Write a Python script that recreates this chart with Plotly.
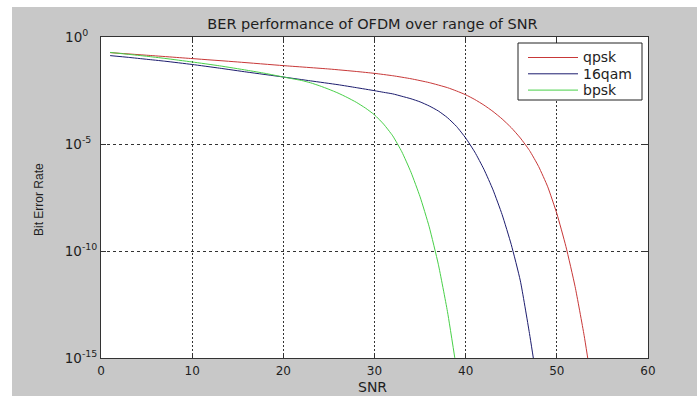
import plotly.graph_objects as go

# Bit error rate versus SNR (dB) for three OFDM modulation schemes
snr_qpsk = [1, 5, 10, 15, 20, 25, 28, 30, 32, 34, 36, 38, 39, 40, 41, 42, 43,
            44, 45, 46, 47, 48, 49, 50, 51, 52, 53, 54]
ber_qpsk = [1.86e-1, 1.41e-1, 9.8e-2, 6.8e-2, 4.6e-2, 3.2e-2, 2.45e-2, 2.0e-2,
            1.55e-2, 1.12e-2, 7.4e-3, 4.3e-3, 3.0e-3, 2.0e-3, 1.2e-3, 6.6e-4,
            3.3e-4, 1.48e-4, 5.8e-5, 1.9e-5, 5.0e-6, 8.9e-7, 1.0e-7, 5.6e-9,
            1.6e-10, 2.2e-12, 1.1e-14, 2.0e-17]

snr_16qam = [1, 3, 5, 7, 10, 13, 16, 20, 23, 26, 28, 30, 31, 32, 33, 34, 35,
             36, 37, 38, 39, 40, 41, 42, 43, 44, 45, 46, 47, 48]
ber_16qam = [1.35e-1, 1.12e-1, 9.1e-2, 7.4e-2, 5.2e-2, 3.5e-2, 2.3e-2, 1.35e-2,
             8.9e-3, 5.9e-3, 4.3e-3, 3.1e-3, 2.6e-3, 2.2e-3, 1.7e-3, 1.3e-3,
             9.3e-4, 6.0e-4, 3.5e-4, 1.7e-4, 6.6e-5, 1.9e-5, 4.2e-6, 6.6e-7,
             7.2e-8, 5.0e-9, 2.0e-10, 4.0e-12, 1.4e-14, 2.5e-17]

snr_bpsk = [1, 3, 5, 7, 10, 13, 16, 18, 20, 21, 22, 23, 24, 25, 26, 27, 28,
            29, 30, 31, 32, 33, 34, 35, 36, 37, 38, 39]
ber_bpsk = [1.9e-1, 1.55e-1, 1.26e-1, 1.0e-1, 6.8e-2, 4.5e-2, 2.8e-2, 2.0e-2,
            1.35e-2, 1.12e-2, 9.3e-3, 7.2e-3, 5.2e-3, 3.6e-3, 2.4e-3, 1.5e-3,
            8.9e-4, 4.8e-4, 2.3e-4, 8.5e-5, 2.4e-5, 4.3e-6, 4.8e-7, 3.4e-8,
            1.35e-9, 2.4e-11, 1.5e-13, 3.0e-16]

series_names = ["qpsk", "16qam", "bpsk"]
series_colors = ["#c83838", "#1c1c6e", "#48d048"]

x_ticks = [0, 10, 20, 30, 40, 50, 60]
y_ticks = [1e0, 1e-5, 1e-10, 1e-15]
# exponents padded so every "10" base lines up on the same right edge
NB = "\u00a0"
y_tick_text = ["10<sup>0" + NB * 3 + "</sup>", "10<sup>-5" + NB * 2 + "</sup>",
               "10<sup>-10</sup>", "10<sup>-15</sup>"]

W, H = 697, 396
L, R, T, B = 101, 49, 37, 38
pw, ph = W - L - R, H - T - B


def px_x(px):
    return (px - L) / pw


def px_y(py):
    return (H - B - py) / ph


FONT = "DejaVu Sans, Liberation Sans, Arial, sans-serif"
TXT = "#1e1e1e"

fig = go.Figure()
for xs, ys, name, color in zip([snr_qpsk, snr_16qam, snr_bpsk],
                               [ber_qpsk, ber_16qam, ber_bpsk],
                               series_names, series_colors):
    fig.add_trace(go.Scatter(x=xs, y=ys, mode="lines", name=name,
                             line=dict(color=color, width=1, shape="spline",
                                       smoothing=0.5)))

# grey figure window with white axes box
shapes = [
    dict(type="rect", xref="paper", yref="paper", layer="below",
         x0=px_x(12), x1=px_x(W + 5), y0=px_y(H + 5), y1=px_y(7),
         fillcolor="#c8c8c8", line=dict(width=0)),
    dict(type="rect", xref="paper", yref="paper", layer="below",
         x0=0, x1=1, y0=0, y1=1, fillcolor="white", line=dict(width=0)),
]
annotations = []

# boxed legend in the upper right corner of the axes
leg_x0, leg_x1, leg_y0, leg_y1 = 518, 642, 43, 100
shapes.append(dict(type="rect", xref="paper", yref="paper", layer="above",
                   x0=px_x(leg_x0), x1=px_x(leg_x1),
                   y0=px_y(leg_y1), y1=px_y(leg_y0),
                   fillcolor="white", line=dict(color="#222", width=1)))
for i, (name, color) in enumerate(zip(series_names, series_colors)):
    row_y = 57.5 + i * 16.3
    shapes.append(dict(type="line", xref="paper", yref="paper", layer="above",
                       x0=px_x(528), x1=px_x(578), y0=px_y(row_y), y1=px_y(row_y),
                       line=dict(color=color, width=1)))
    annotations.append(dict(text=name, xref="paper", yref="paper",
                            x=px_x(581), y=px_y(row_y), xanchor="left",
                            yanchor="middle", showarrow=False,
                            font=dict(family=FONT, size=14, color=TXT)))

annotations += [
    dict(text="SNR", xref="paper", yref="paper", x=px_x(372), y=px_y(386.5),
         xanchor="center", yanchor="middle", showarrow=False,
         font=dict(family=FONT, size=14, color=TXT)),
    dict(text="Bit Error Rate", xref="paper", yref="paper", x=px_x(39),
         y=px_y(200), xanchor="center", yanchor="middle", textangle=-90,
         showarrow=False,
         font=dict(family="Liberation Sans, Arial, sans-serif", size=12, color=TXT)),
]

fig.update_layout(
    width=W, height=H, autosize=False,
    margin=dict(l=L, r=R, t=T, b=B),
    paper_bgcolor="white", plot_bgcolor="white",
    shapes=shapes, annotations=annotations,
    font=dict(family=FONT, size=12, color=TXT),
    title=dict(text="BER performance of OFDM over range of SNR",
               x=372.5 / W, xanchor="center", y=1 - 24 / H, yanchor="middle",
               font=dict(family=FONT, size=14.5, color=TXT)),
    showlegend=False,
)

fig.update_xaxes(
    range=[0, 60], tickvals=x_ticks, ticks="inside", ticklen=5, tickcolor="#333",
    showline=True, linecolor="#333", linewidth=1, mirror="allticks",
    showgrid=True, gridcolor="#333", gridwidth=1, griddash="2px,2px",
    zeroline=False, tickfont=dict(family=FONT, size=12, color=TXT),
    ticklabelstandoff=2,
)
fig.update_yaxes(
    type="log", range=[-15, 0], tickvals=y_ticks, ticktext=y_tick_text,
    ticks="inside", ticklen=5, tickcolor="#333",
    showline=True, linecolor="#333", linewidth=1, mirror="allticks",
    showgrid=True, gridcolor="#333", gridwidth=1, griddash="3px,3px",
    zeroline=False, tickfont=dict(family=FONT, size=13.5, color=TXT),
)

fig.write_html("out.html")
